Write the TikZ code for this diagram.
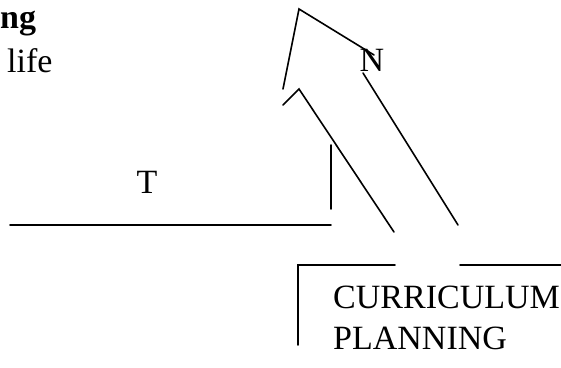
\documentclass[tikz,border=0pt]{standalone}
\usepackage{fontspec}
\setmainfont{Liberation Serif}
\usetikzlibrary{positioning}
\tikzstyle{line} = [line width=1.6pt, line cap=round]
\tikzstyle{label} = [inner sep=0pt, anchor=base west, font=\fontsize{34}{41}\selectfont]

\begin{document}
\begin{tikzpicture}[x=1pt, y=1pt]
\useasboundingbox (0,0) rectangle (561,367);

% Text
\node (ng) [label, font=\fontsize{34}{41}\selectfont\bfseries] at (0,338) {ng};
\node (life) [label] at (7,294) {life};
\node (tee) [label, anchor=base] at (147,174) {T};
\node (en) [label, anchor=base] at (372,295) {N};
\node (plan) [label, align=left, anchor=base west] at (333,18) {CURRICULUM\\PLANNING};

% Corner points
\coordinate (hl) at (10,142);
\coordinate (hr) at (331,142);
\coordinate (vb) at (331,158);
\coordinate (vt) at (331,222);
\coordinate (outa) at (283,278);
\coordinate (apex) at (299,358);
\coordinate (outb) at (374,312);
\coordinate (rtop) at (363,294);
\coordinate (rbot) at (458,142);
\coordinate (ina) at (283,262);
\coordinate (inapex) at (299,278);
\coordinate (inbot) at (394,135);
\coordinate (bxb) at (298,22);
\coordinate (bxc) at (298,102);
\coordinate (bxl) at (395,102);
\coordinate (bxr) at (460,102);
\coordinate (bxe) at (561,102);

% Lines
\draw [line] (hl) -- (hr);
\draw [line] (vb) -- (vt);
\draw [line] (outa) -- (apex) -- (outb);
\draw [line] (rtop) -- (rbot);
\draw [line] (ina) -- (inapex) -- (inbot);
\draw [line] (bxb) -- (bxc) -- (bxl);
\draw [line] (bxr) -- (bxe);

\end{tikzpicture}
\end{document}
